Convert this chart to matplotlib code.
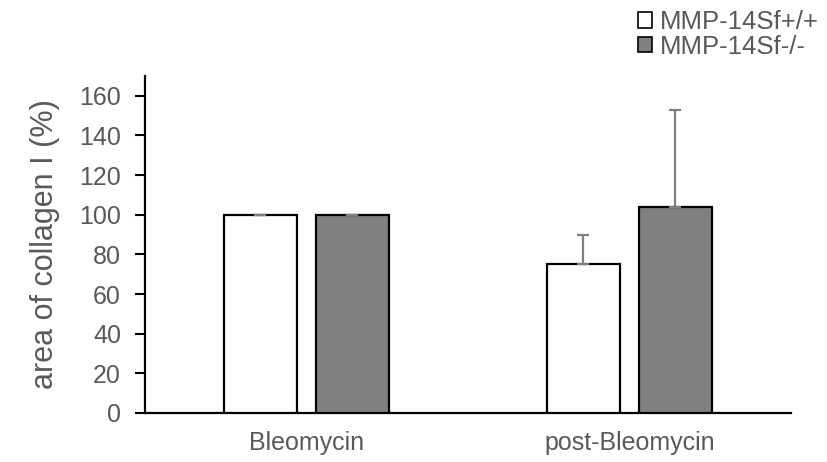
import matplotlib
matplotlib.use("Agg")
import matplotlib.pyplot as plt
from matplotlib.patches import Patch
import numpy as np

categories = ["Bleomycin", "post-Bleomycin"]
series_names = ["MMP-14Sf+/+", "MMP-14Sf-/-"]
wt_values = [100, 75.3]
wt_errors = [0, 14.6]
ko_values = [100, 104.0]
ko_errors = [0, 49.0]
yticks = [0, 20, 40, 60, 80, 100, 120, 140, 160]

plt.rcParams['font.family'] = ['Liberation Sans', 'DejaVu Sans']
txt = '#595959'

fig = plt.figure(figsize=(8.27, 4.62), dpi=100)
ax = fig.add_axes([144.5/827, 1-413/462, (791-144.5)/827, (413-76)/462])

x = np.arange(len(categories))
w = 0.226
off = 0.1424
err_kw = dict(ecolor='#7f7f7f', elinewidth=1.6, capsize=4.3, capthick=1.6)
ax.bar(x - off, wt_values, w, color='white', edgecolor='black', linewidth=1.6,
       yerr=[np.zeros(len(wt_errors)), wt_errors], error_kw=err_kw, zorder=3)
ax.bar(x + off, ko_values, w, color='#808080', edgecolor='black', linewidth=1.6,
       yerr=[np.zeros(len(ko_errors)), ko_errors], error_kw=err_kw, zorder=3)

ax.set_xlim(-0.5, 1.5)
ax.set_ylim(0, 170)
ax.set_yticks(yticks)
ax.set_xticks(x)
ax.set_xticklabels(categories)
ax.tick_params(axis='x', length=0, labelsize=18, labelcolor=txt, pad=13)
ax.tick_params(axis='y', length=7, width=1.5, color='black', labelsize=18, labelcolor=txt, pad=10, direction='out')
for s in ['top', 'right']:
    ax.spines[s].set_visible(False)
for s in ['left', 'bottom']:
    ax.spines[s].set_linewidth(1.6)
    ax.spines[s].set_color('black')
ax.set_ylabel("area of collagen I (%)", fontsize=22, color=txt, labelpad=14)

handles = [Patch(facecolor='white', edgecolor='black', linewidth=1.2),
           Patch(facecolor='#808080', edgecolor='black', linewidth=1.2)]
leg = fig.legend(handles, series_names, loc='upper left', bbox_to_anchor=(638/827, 1-10/462),
                 frameon=False, fontsize=18.5, handlelength=0.55, handleheight=0.55,
                 handletextpad=0.32, labelspacing=0.03, borderaxespad=0, borderpad=0)
for t in leg.get_texts():
    t.set_color(txt)

fig.savefig("out.png", dpi=100)
